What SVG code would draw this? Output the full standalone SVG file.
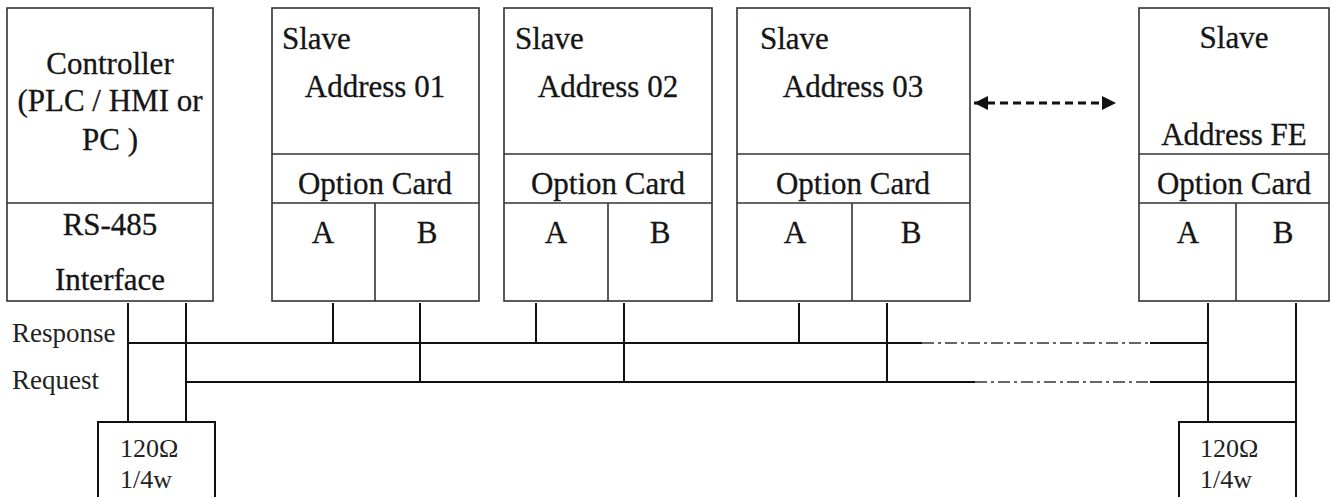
<svg xmlns="http://www.w3.org/2000/svg" width="1332" height="497" viewBox="0 0 1332 497">
<style>
.box{fill:#fff;stroke:#333;stroke-width:1.6}
.div{stroke:#333;stroke-width:1.6;fill:none}
.t{font-family:"Liberation Serif","Times New Roman",serif;font-size:31px;fill:#151515;stroke:#151515;stroke-width:0.3}
.c{text-anchor:middle}
.lbl{font-family:"Liberation Serif","Times New Roman",serif;font-size:27px;fill:#222}
.res{font-family:"Liberation Serif","Times New Roman",serif;font-size:26px;fill:#222}
.bus{stroke:#111;stroke-width:2;fill:none}
.dd{stroke:#666;stroke-width:2;fill:none;stroke-dasharray:12 4 3 4}
</style>
<defs>
<marker id="ah" viewBox="0 0 10 10" refX="10" refY="5" markerWidth="18" markerHeight="14" markerUnits="userSpaceOnUse" orient="auto-start-reverse">
<path d="M0,0 L10,5 L0,10 Z" fill="#111"/>
</marker>
</defs>
<rect width="1332" height="497" fill="#fff"/>

<g id="controller">
<rect class="box" x="7" y="8" width="206" height="293"/>
<line class="div" x1="7" y1="203" x2="213" y2="203"/>
<text class="t c" x="110" y="74">Controller</text>
<text class="t c" x="110" y="111">(PLC / HMI or</text>
<text class="t c" x="110" y="150">PC )</text>
<text class="t c" x="110" y="235">RS-485</text>
<text class="t c" x="110" y="290">Interface</text>
</g>

<g id="slave01">
<rect class="box" x="272" y="8" width="207" height="293"/>
<line class="div" x1="272" y1="154" x2="479" y2="154"/>
<line class="div" x1="272" y1="203" x2="479" y2="203"/>
<line class="div" x1="375" y1="203" x2="375" y2="301"/>
<text class="t" x="282" y="49">Slave</text>
<text class="t c" x="375" y="97">Address 01</text>
<text class="t c" x="375" y="194">Option Card</text>
<text class="t c" x="323" y="243">A</text>
<text class="t c" x="427" y="243">B</text>
</g>

<g id="slave02">
<rect class="box" x="504" y="8" width="208" height="293"/>
<line class="div" x1="504" y1="154" x2="712" y2="154"/>
<line class="div" x1="504" y1="203" x2="712" y2="203"/>
<line class="div" x1="608" y1="203" x2="608" y2="301"/>
<text class="t" x="515" y="49">Slave</text>
<text class="t c" x="608" y="97">Address 02</text>
<text class="t c" x="608" y="194">Option Card</text>
<text class="t c" x="556" y="243">A</text>
<text class="t c" x="660" y="243">B</text>
</g>

<g id="slave03">
<rect class="box" x="737" y="8" width="233" height="293"/>
<line class="div" x1="737" y1="154" x2="970" y2="154"/>
<line class="div" x1="737" y1="203" x2="970" y2="203"/>
<line class="div" x1="852" y1="203" x2="852" y2="301"/>
<text class="t" x="760" y="49">Slave</text>
<text class="t c" x="853" y="97">Address 03</text>
<text class="t c" x="853" y="194">Option Card</text>
<text class="t c" x="795" y="243">A</text>
<text class="t c" x="911" y="243">B</text>
</g>

<g id="slaveFE">
<rect class="box" x="1139" y="8" width="190" height="293"/>
<line class="div" x1="1139" y1="154" x2="1329" y2="154"/>
<line class="div" x1="1139" y1="203" x2="1329" y2="203"/>
<line class="div" x1="1236" y1="203" x2="1236" y2="301"/>
<text class="t c" x="1234" y="48">Slave</text>
<text class="t c" x="1234" y="145">Address FE</text>
<text class="t c" x="1234" y="194">Option Card</text>
<text class="t c" x="1188" y="243">A</text>
<text class="t c" x="1283" y="243">B</text>
</g>

<g id="resistorLeft">
<rect class="box" x="98" y="422" width="117" height="85" style="stroke:#111;stroke-width:2"/>
<text class="res" x="120" y="457">120Ω</text>
<text class="res" x="120" y="488">1/4w</text>
</g>

<g id="resistorRight">
<rect class="box" x="1179" y="422" width="117" height="85" style="stroke:#111;stroke-width:2"/>
<text class="res" x="1200" y="457">120Ω</text>
<text class="res" x="1200" y="488">1/4w</text>
</g>

<g id="labels">
<text class="lbl" x="12" y="342">Response</text>
<text class="lbl" x="12" y="389">Request</text>
</g>

<g id="connectors">
<line class="bus" x1="128" y1="303" x2="128" y2="422"/>
<line class="bus" x1="186" y1="303" x2="186" y2="422"/>
<path class="bus" d="M128,343 H922 M1150,343 H1208"/>
<path class="dd" d="M922,343 H1150"/>
<path class="bus" d="M186,382 H975 M1150,382 H1296"/>
<path class="dd" d="M975,382 H1150"/>
<line class="bus" x1="333" y1="303" x2="333" y2="343"/>
<line class="bus" x1="420" y1="303" x2="420" y2="382"/>
<line class="bus" x1="536" y1="303" x2="536" y2="343"/>
<line class="bus" x1="624" y1="303" x2="624" y2="382"/>
<line class="bus" x1="799" y1="303" x2="799" y2="343"/>
<line class="bus" x1="887" y1="303" x2="887" y2="382"/>
<line class="bus" x1="1208" y1="303" x2="1208" y2="422"/>
<line class="bus" x1="1296" y1="303" x2="1296" y2="422"/>
<line x1="974" y1="103" x2="1116" y2="103" stroke="#111" stroke-width="3" stroke-dasharray="8 5" marker-start="url(#ah)" marker-end="url(#ah)"/>
</g>
</svg>
